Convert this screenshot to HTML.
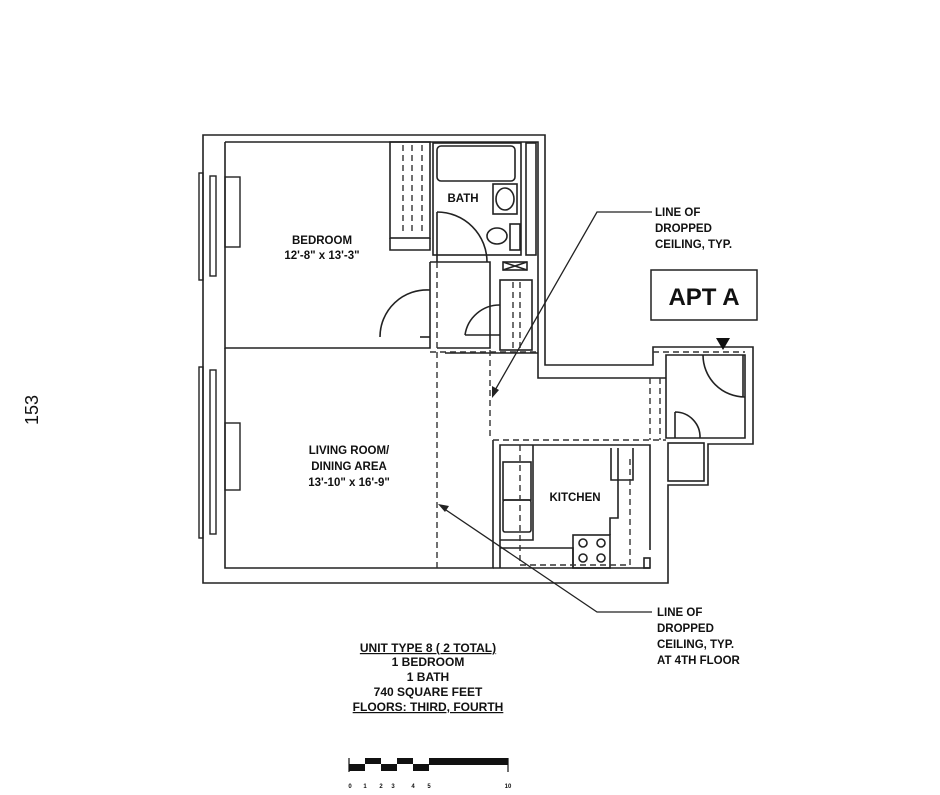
<!DOCTYPE html>
<html><head><meta charset="utf-8"><style>
body{margin:0;background:#fff;}
svg{display:block;}
text{font-family:"Liberation Sans",sans-serif;font-weight:bold;fill:#111;}
</style></head><body>
<svg width="940" height="795" viewBox="0 0 940 795" xmlns="http://www.w3.org/2000/svg">
<rect width="940" height="795" fill="#fff"/>
<g fill="none" stroke="#222" stroke-width="1.6">
<!-- outer wall -->
<path d="M203,135 H545 V365 H653 V347 H753 V444 H708 V485 H668 V583 H203 Z"/>
<!-- inner top/right line -->
<path d="M225,142 H538 V378 H666"/>
<!-- bedroom -->
<path d="M225,142 V348 H430 V262"/>
<path d="M225,353 V568 H493 V440"/>
<path d="M225,348 V353"/>
<path d="M430,262 H490 V348 H437"/>
<path d="M445,353 H538"/>
<!-- closet bedroom -->
<rect x="390" y="142" width="40" height="96"/>
<path d="M390,238 V250 H430 V238"/>
<!-- bath -->
<rect x="433" y="143" width="88" height="112"/>
<rect x="437" y="146" width="78" height="35" rx="4"/>
<rect x="493" y="184" width="24" height="30"/>
<ellipse cx="505" cy="199" rx="9" ry="11"/>
<ellipse cx="497" cy="236" rx="10" ry="8"/>
<rect x="510" y="224" width="10" height="26"/>
<rect x="526" y="143" width="10" height="112"/>
<path d="M437,212 V262"/>
<path d="M437,212 A50,50 0 0 1 487,262"/>
<!-- bedroom door -->
<path d="M420,337 H430"/>
<path d="M380,337 A47,47 0 0 1 430,290"/>
<!-- small closets -->
<rect x="503" y="262" width="24" height="8"/>
<path d="M503,262 L527,270 M527,262 L503,270"/>
<rect x="500" y="280" width="32" height="70"/>
<path d="M465,335 A35,35 0 0 1 500,305 M465,335 H500"/>
<!-- entry -->
<path d="M666,355 H745 V438 H666 Z"/>
<path d="M703,355 A42,42 0 0 0 745,397 M743,355 V397"/>
<path d="M675,412 A25,25 0 0 1 700,438 M675,412 V438"/>
<rect x="668" y="443" width="36" height="38"/>
<!-- kitchen -->
<path d="M500,568 V445 H650 V550"/>
<path d="M493,568 H650"/>
<path d="M500,548 H573 V568 M500,540 H533 V445"/>
<rect x="503" y="462" width="28" height="38"/>
<rect x="503" y="500" width="28" height="32" rx="2"/>
<rect x="573" y="535" width="37" height="33"/>
<circle cx="583" cy="543" r="4"/><circle cx="601" cy="543" r="4"/>
<circle cx="583" cy="558" r="4"/><circle cx="601" cy="558" r="4"/>
<path d="M610,535 V518 H618 V448 M611,448 V480 H633 V448"/>
<rect x="644" y="558" width="6" height="10"/>
</g>
<!-- dashed ceiling lines -->
<g fill="none" stroke="#333" stroke-width="1.4" stroke-dasharray="6,4">
<path d="M437,262 V568"/>
<path d="M490,350 V440"/>
<path d="M430,352 H540"/>
<path d="M493,440 H666"/>
<path d="M650,378 V440"/>
<path d="M660,378 V440"/>
<path d="M653,352 H745"/>
<path d="M520,445 V565 H630 V455"/>
<path d="M403,145 V235 M412,145 V235 M422,145 V235"/>
<path d="M513,282 V348 M520,282 V348"/>
</g>
<!-- windows -->
<g fill="none" stroke="#222" stroke-width="1.4">
<rect x="199" y="173" width="4" height="107"/>
<rect x="210" y="176" width="6" height="100"/>
<rect x="225" y="177" width="15" height="70"/>
<rect x="199" y="367" width="4" height="171"/>
<rect x="210" y="370" width="6" height="164"/>
<rect x="225" y="423" width="15" height="67"/>
</g>
<!-- leaders -->
<g fill="none" stroke="#222" stroke-width="1.3">
<path d="M652,212 H597 L494,392"/>
<path d="M652,612 H597 L443,508"/>
</g>
<path d="M492,398 L492,386 L499,390 Z" fill="#222"/>
<path d="M438,504 L449,506 L445,512 Z" fill="#222"/>
<path d="M716,338 L730,338 L723,350 Z" fill="#111"/>
<rect x="651" y="270" width="106" height="50" fill="none" stroke="#222" stroke-width="1.5"/>
<text x="704" y="305" font-size="24" text-anchor="middle">APT A</text>
<g font-size="11.5">
<text x="655" y="216">LINE OF</text>
<text x="655" y="232">DROPPED</text>
<text x="655" y="248">CEILING, TYP.</text>
<text x="657" y="616">LINE OF</text>
<text x="657" y="632">DROPPED</text>
<text x="657" y="648">CEILING, TYP.</text>
<text x="657" y="664">AT 4TH FLOOR</text>
<text x="463" y="202" text-anchor="middle">BATH</text>
<text x="575" y="501" text-anchor="middle">KITCHEN</text>
<text x="322" y="244" text-anchor="middle">BEDROOM</text>
<text x="322" y="259" text-anchor="middle">12'-8" x 13'-3"</text>
<text x="349" y="454" text-anchor="middle">LIVING ROOM/</text>
<text x="349" y="470" text-anchor="middle">DINING AREA</text>
<text x="349" y="486" text-anchor="middle">13'-10" x 16'-9"</text>
</g>
<g font-size="12" text-anchor="middle">
<text x="428" y="652" text-decoration="underline">UNIT TYPE 8 ( 2 TOTAL)</text>
<text x="428" y="666">1 BEDROOM</text>
<text x="428" y="681">1 BATH</text>
<text x="428" y="696">740 SQUARE FEET</text>
<text x="428" y="711" text-decoration="underline">FLOORS: THIRD, FOURTH</text>
</g>
<path d="M415,655 H442" stroke="none"/>
<!-- scale bar -->
<g fill="#111">
<rect x="349" y="764" width="16" height="7"/>
<rect x="365" y="758" width="16" height="6"/>
<rect x="381" y="764" width="16" height="7"/>
<rect x="397" y="758" width="16" height="6"/>
<rect x="413" y="764" width="16" height="7"/>
<rect x="429" y="758" width="79" height="7"/>
</g>
<path d="M349,758 V772 M508,758 V772" stroke="#111" stroke-width="1.2"/>
<g font-size="6" text-anchor="middle">
<text x="350" y="788">0</text><text x="365" y="788">1</text><text x="381" y="788">2</text>
<text x="393" y="788">3</text><text x="413" y="788">4</text><text x="429" y="788">5</text>
<text x="508" y="788">10</text>
</g>
<text x="0" y="0" font-size="18" font-weight="normal" transform="translate(38,425) rotate(-90)" style="font-weight:normal">153</text>
</svg>
</body></html>
